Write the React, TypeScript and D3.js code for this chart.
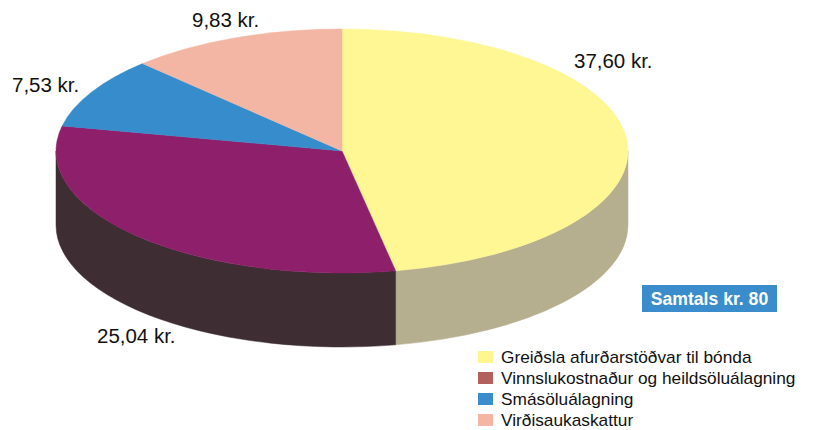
import React from "react";
import * as d3 from "d3";

const categories = [
  "Greiðsla afurðarstöðvar til bónda",
  "Vinnslukostnaður og heildsöluálagning",
  "Smásöluálagning",
  "Virðisaukaskattur",
];
const values = [37.6, 25.04, 7.53, 9.83];
const valueLabels = ["37,60 kr.", "25,04 kr.", "7,53 kr.", "9,83 kr."];
const totalLabel = "Samtals kr. 80";

const topColors = ["#FEF794", "#8E1F6B", "#378DCB", "#F4B6A4"];
const sideColors = ["#B5AE8F", "#3E2D32", "#1F5A85", "#A87E72"];
const legendColors = ["#FEF68F", "#B2605A", "#3A8CCB", "#F5B5A3"];

const W = 815;
const H = 430;
const cx = 342;
const cy = 151;
const rx = 286;
const ry = 122;
const depth = 74;

// label anchor positions (x, baseline y)
const labelPos: [number, number][] = [
  [574, 68],
  [97, 343],
  [12, 92],
  [192, 27],
];

function pt(a: number, dy = 0): [number, number] {
  return [cx + rx * Math.sin(a), cy - ry * Math.cos(a) + dy];
}

export default function App() {
  const pie = d3
    .pie<number>()
    .sort(null)
    .value((d) => d)
    .startAngle(0)
    .endAngle(2 * Math.PI);
  const arcs = pie(values);

  const sides = arcs
    .map((a, i) => {
      const s = Math.max(a.startAngle, Math.PI / 2);
      const e = Math.min(a.endAngle, (3 * Math.PI) / 2);
      if (e <= s) return null;
      const p0 = pt(s);
      const p1 = pt(e);
      const q1 = pt(e, depth);
      const q0 = pt(s, depth);
      const large = e - s > Math.PI ? 1 : 0;
      const d = `M${p0[0]},${p0[1]} A${rx},${ry} 0 ${large} 1 ${p1[0]},${p1[1]} L${q1[0]},${q1[1]} A${rx},${ry} 0 ${large} 0 ${q0[0]},${q0[1]} Z`;
      return <path key={"s" + i} d={d} fill={sideColors[i]} stroke={sideColors[i]} strokeWidth={0.5} />;
    })
    .filter(Boolean);

  const tops = arcs.map((a, i) => {
    const p0 = pt(a.startAngle);
    const p1 = pt(a.endAngle);
    const large = a.endAngle - a.startAngle > Math.PI ? 1 : 0;
    const d = `M${cx},${cy} L${p0[0]},${p0[1]} A${rx},${ry} 0 ${large} 1 ${p1[0]},${p1[1]} Z`;
    return <path key={"t" + i} d={d} fill={topColors[i]} stroke={topColors[i]} strokeWidth={0.5} />;
  });

  const legendX = 478;
  const legendY0 = 351;
  const legendStep = 21;

  return (
    <svg
      width={W}
      height={H}
      style={{ position: "fixed", left: 0, top: 0, background: "#fff" }}
      fontFamily="'Liberation Sans', Arial, sans-serif"
    >
      <rect width={W} height={H} fill="#fff" />
      {sides}
      {tops}
      {valueLabels.map((t, i) => (
        <text
          key={"l" + i}
          transform={`translate(${labelPos[i][0]},${labelPos[i][1]}) scale(1.05,1)`}
          fontSize={19.5}
          fill="#111"
        >
          {t}
        </text>
      ))}
      <rect x={642} y={285} width={135} height={27} fill="#3A8CCB" />
      <text x={709.5} y={305} fontSize={17.6} fontWeight="bold" fill="#fff" textAnchor="middle">
        {totalLabel}
      </text>
      {categories.map((c, i) => (
        <g key={"g" + i} transform={`translate(${legendX},${legendY0 + i * legendStep})`}>
          <rect x={0} y={0} width={15} height={12} fill={legendColors[i]} />
          <text transform="translate(23,11.5) scale(1.08,1)" fontSize={16} fill="#111">
            {c}
          </text>
        </g>
      ))}
    </svg>
  );
}
